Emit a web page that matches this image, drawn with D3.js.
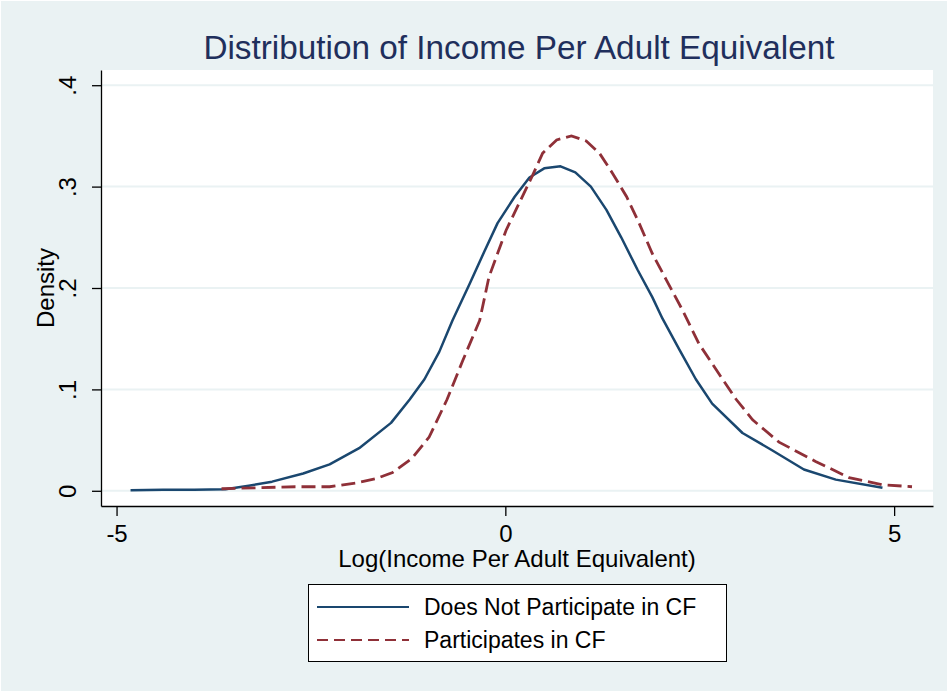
<!DOCTYPE html>
<html>
<head>
<meta charset="utf-8">
<script src="https://cdn.jsdelivr.net/npm/d3@7"></script>
<style>
  body { margin: 0; background: #eaf2f3; }
  svg { display: block; font-family: "Liberation Sans", Arial, sans-serif; }
</style>
</head>
<body>
<div id="vis"></div>
<script>
// Data: kernel density estimates, x = log income, y = density
const NOT_X = [-4.82, -4.4, -4.0, -3.6, -3.3, -3.0, -2.6, -2.26, -1.88, -1.47, -1.23, -1.04, -0.85, -0.68,
    -0.46, -0.27, -0.10, 0.12, 0.31, 0.50, 0.71, 0.90, 1.10, 1.30, 1.49, 1.70, 1.89, 2.02, 2.24, 2.45,
    2.66, 3.05, 3.43, 3.84, 4.25, 4.85];
const NOT_Y = [0.0005, 0.001, 0.001, 0.0015, 0.005, 0.009, 0.017, 0.026, 0.042, 0.067, 0.090, 0.110, 0.137, 0.168,
    0.204, 0.236, 0.264, 0.290, 0.309, 0.318, 0.320, 0.314, 0.300, 0.277, 0.250, 0.218, 0.191, 0.170, 0.139, 0.110,
    0.086, 0.057, 0.040, 0.021, 0.011, 0.003];
const CF_X = [-3.65, -3.2, -2.7, -2.26, -1.9, -1.66, -1.45, -1.2, -0.98, -0.75, -0.55, -0.33, -0.21, 0.01,
    0.18, 0.35, 0.48, 0.66, 0.85, 1.04, 1.21, 1.38, 1.56, 1.72, 1.89, 2.07, 2.28, 2.49, 2.82, 2.97,
    3.18, 3.52, 3.99, 4.42, 4.85, 5.23];
const CF_Y = [0.002, 0.003, 0.004, 0.004, 0.008, 0.012, 0.018, 0.032, 0.053, 0.090, 0.128, 0.168, 0.211, 0.257,
    0.284, 0.311, 0.333, 0.346, 0.350, 0.345, 0.333, 0.313, 0.290, 0.264, 0.234, 0.208, 0.178, 0.145, 0.107, 0.090,
    0.070, 0.048, 0.029, 0.013, 0.006, 0.004];
const SERIES_NAMES = ["Does Not Participate in CF", "Participates in CF"];
const X_TICKS = [-5, 0, 5];
const Y_TICKS = [0, 0.1, 0.2, 0.3, 0.4];
const Y_TICK_LABELS = ["0", ".1", ".2", ".3", ".4"];

// Frame and plot region
const FRAME_WIDTH = 948;
const FRAME_HEIGHT = 692;
const PLOT = {left: 101, right: 933, top: 70, bottom: 506};
const BLUE = "#1a476f";
const RED = "#8f3038";
const GRID = "#eaf2f3";

const FRAME = d3.select("#vis")
    .append("svg")
    .attr("width", FRAME_WIDTH)
    .attr("height", FRAME_HEIGHT);

// outer background with thin white edge
FRAME.append("rect")
    .attr("x", 0).attr("y", 0)
    .attr("width", FRAME_WIDTH).attr("height", FRAME_HEIGHT)
    .attr("fill", "#ffffff");
FRAME.append("rect")
    .attr("x", 1).attr("y", 1)
    .attr("width", FRAME_WIDTH - 2).attr("height", FRAME_HEIGHT - 2)
    .attr("fill", "#eaf2f3");

// white plot region
FRAME.append("rect")
    .attr("x", PLOT.left).attr("y", PLOT.top)
    .attr("width", PLOT.right - PLOT.left).attr("height", PLOT.bottom - PLOT.top)
    .attr("fill", "#ffffff");

const X_SCALE = d3.scaleLinear()
    .domain([-5.2, 5.5])
    .range([PLOT.left, PLOT.right]);
const Y_SCALE = d3.scaleLinear()
    .domain([-0.015, 0.415])
    .range([PLOT.bottom, PLOT.top]);

// horizontal grid lines
FRAME.append("g")
    .selectAll("line")
    .data(Y_TICKS)
    .enter()
    .append("line")
    .attr("x1", PLOT.left)
    .attr("x2", PLOT.right)
    .attr("y1", (d) => Y_SCALE(d))
    .attr("y2", (d) => Y_SCALE(d))
    .attr("stroke", GRID)
    .attr("stroke-width", 2);

// x axis
const xAxis = FRAME.append("g")
    .attr("transform", "translate(0," + PLOT.bottom + ")")
    .call(d3.axisBottom(X_SCALE).tickValues(X_TICKS).tickSize(10).tickSizeOuter(0).tickPadding(7)
        .tickFormat((d) => d));
xAxis.selectAll("text")
    .attr("font-size", "24px")
    .attr("font-family", "Liberation Sans, Arial, sans-serif")
    .attr("fill", "#000")
    .attr("dy", null)
    .attr("y", 36);

// y axis
const yAxis = FRAME.append("g")
    .attr("transform", "translate(" + PLOT.left + ",0)")
    .call(d3.axisLeft(Y_SCALE).tickValues(Y_TICKS).tickSize(9).tickSizeOuter(0)
        .tickFormat((d, i) => Y_TICK_LABELS[i]));
yAxis.selectAll("text")
    .attr("font-size", "24px")
    .attr("font-family", "Liberation Sans, Arial, sans-serif")
    .attr("fill", "#000")
    .attr("text-anchor", "middle")
    .attr("dy", null)
    .attr("x", 0)
    .attr("y", -25)
    .attr("transform", "rotate(-90)");

FRAME.selectAll(".domain, .tick line")
    .attr("stroke", "#000")
    .attr("stroke-width", 1.3);

// axis titles
FRAME.append("text")
    .attr("x", (PLOT.left + PLOT.right) / 2)
    .attr("y", 567)
    .attr("text-anchor", "middle")
    .attr("font-size", "24px")
    .text("Log(Income Per Adult Equivalent)");
FRAME.append("text")
    .attr("transform", "translate(54," + ((PLOT.top + PLOT.bottom) / 2) + ") rotate(-90)")
    .attr("text-anchor", "middle")
    .attr("font-size", "24px")
    .text("Density");

// title
FRAME.append("text")
    .attr("x", (PLOT.left + PLOT.right) / 2 + 2)
    .attr("y", 59)
    .attr("text-anchor", "middle")
    .attr("font-size", "33.3px")
    .attr("fill", "#1f2f5c")
    .text("Distribution of Income Per Adult Equivalent");

// density lines
const line = d3.line()
    .x((d) => X_SCALE(d[0]))
    .y((d) => Y_SCALE(d[1]));

const NOT_DATA = NOT_X.map((x, i) => [x, NOT_Y[i]]);
const CF_DATA = CF_X.map((x, i) => [x, CF_Y[i]]);

FRAME.append("path")
    .datum(NOT_DATA)
    .attr("d", line)
    .attr("fill", "none")
    .attr("stroke", BLUE)
    .attr("stroke-width", 2.5)
    .attr("stroke-linejoin", "round");
FRAME.append("path")
    .datum(CF_DATA)
    .attr("d", line)
    .attr("fill", "none")
    .attr("stroke", RED)
    .attr("stroke-width", 2.8)
    .attr("stroke-dasharray", "14,6");

// legend
const LEGEND = FRAME.append("g");
LEGEND.append("rect")
    .attr("x", 308.5).attr("y", 584.5)
    .attr("width", 418).attr("height", 77)
    .attr("fill", "#ffffff")
    .attr("stroke", "#000")
    .attr("stroke-width", 1);
const legendRows = [
    {name: SERIES_NAMES[0], color: BLUE, dash: null, y: 607},
    {name: SERIES_NAMES[1], color: RED, dash: "11,6", y: 640}
];
legendRows.forEach((r) => {
    LEGEND.append("line")
        .attr("x1", 317).attr("x2", 409)
        .attr("y1", r.y).attr("y2", r.y)
        .attr("stroke", r.color)
        .attr("stroke-width", 2.2)
        .attr("stroke-dasharray", r.dash);
    LEGEND.append("text")
        .attr("x", 424)
        .attr("y", r.y + 8)
        .attr("font-size", "23px")
        .attr("fill", "#000")
        .text(r.name);
});
</script>
</body>
</html>
